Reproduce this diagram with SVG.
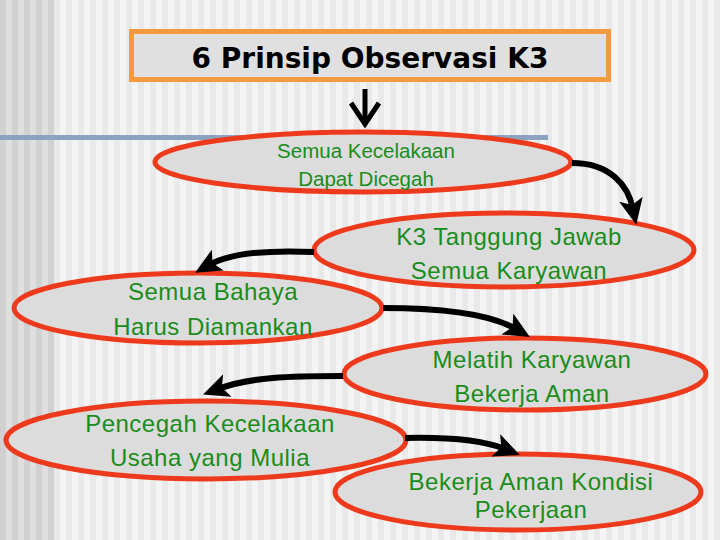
<svg xmlns="http://www.w3.org/2000/svg" width="720" height="540" viewBox="0 0 720 540">
  <defs>
    <pattern id="bgLight" x="0" y="0" width="12" height="10" patternUnits="userSpaceOnUse">
      <rect width="12" height="10" fill="#f4f4f4"/>
      <rect x="6" width="6" height="10" fill="#e9e9e9"/>
    </pattern>
    <pattern id="bgDark" x="0" y="0" width="12" height="10" patternUnits="userSpaceOnUse">
      <rect width="12" height="10" fill="#dfdfdf"/>
      <rect x="0" width="6" height="10" fill="#d1d1d1"/>
    </pattern>
    <marker id="head" markerUnits="userSpaceOnUse" markerWidth="28" markerHeight="26" refX="10" refY="12" orient="auto" viewBox="0 0 28 26">
      <path d="M0,0 L26,12 L0,24 L6,12 z" fill="#000"/>
    </marker>
    <style>
      .node ellipse { fill: #dcdcdc; stroke: #ee3a1c; stroke-width: 5; }
      .node text { font-family: "Liberation Sans", Arial, sans-serif; fill: #1a8c1a; text-anchor: middle; font-size: 24px; letter-spacing: 0.5px; }
      .node text.sm { font-size: 20.5px; letter-spacing: 0; }
      .conn path { fill: none; stroke: #000; stroke-width: 6; }
      .title text { font-family: "DejaVu Sans", Verdana, sans-serif; font-weight: bold; font-size: 28px; fill: #000; text-anchor: middle; }
    </style>
  </defs>

  <!-- background -->
  <rect width="720" height="540" fill="url(#bgLight)"/>
  <rect width="54" height="540" fill="url(#bgDark)"/>
  <rect x="0" y="135" width="548" height="5" fill="#8ba3bf"/>

  <!-- title -->
  <g id="title" class="title">
    <rect x="131.5" y="31.5" width="477" height="48" fill="#e0e0e0" stroke="#f79a3e" stroke-width="5"/>
    <text x="370" y="68">6 Prinsip Observasi K3</text>
  </g>

  <!-- nodes -->
  <g id="n1" class="node">
    <ellipse cx="363" cy="162" rx="208" ry="30"/>
    <text class="sm" x="366" y="158">Semua Kecelakaan</text>
    <text class="sm" x="366" y="186">Dapat Dicegah</text>
  </g>
  <g id="n2" class="node">
    <ellipse cx="504" cy="250" rx="190" ry="37"/>
    <text x="509" y="245">K3 Tanggung Jawab</text>
    <text x="509" y="279">Semua Karyawan</text>
  </g>
  <g id="n3" class="node">
    <ellipse cx="198" cy="308" rx="184" ry="35"/>
    <text x="213" y="300">Semua Bahaya</text>
    <text x="213" y="335">Harus Diamankan</text>
  </g>
  <g id="n4" class="node">
    <ellipse cx="525" cy="374" rx="181" ry="36"/>
    <text x="532" y="368">Melatih Karyawan</text>
    <text x="532" y="402">Bekerja Aman</text>
  </g>
  <g id="n5" class="node">
    <ellipse cx="206" cy="440" rx="200" ry="39"/>
    <text x="210" y="432">Pencegah Kecelakaan</text>
    <text x="210" y="466">Usaha yang Mulia</text>
  </g>
  <g id="n6" class="node">
    <ellipse cx="518" cy="492" rx="183" ry="38"/>
    <text x="531" y="490">Bekerja Aman Kondisi</text>
    <text x="531" y="518">Pekerjaan</text>
  </g>

  <!-- connectors -->
  <g id="connectors" class="conn">
    <path d="M365,89 L365,122" style="stroke-width:5"/>
    <path d="M351,103 L365,124 L379,103" style="stroke-width:5;stroke-linejoin:miter"/>
    <path d="M572,163 C610,163 628,185 633,209" marker-end="url(#head)"/>
    <path d="M314,252 C270,250 232,252 209,265" marker-end="url(#head)"/>
    <path d="M383,308 C440,308 490,314 516,329" marker-end="url(#head)"/>
    <path d="M343,376 C290,376 250,377 218,389" marker-end="url(#head)"/>
    <path d="M405,438 C450,437 485,441 505,449" marker-end="url(#head)"/>
  </g>
</svg>
